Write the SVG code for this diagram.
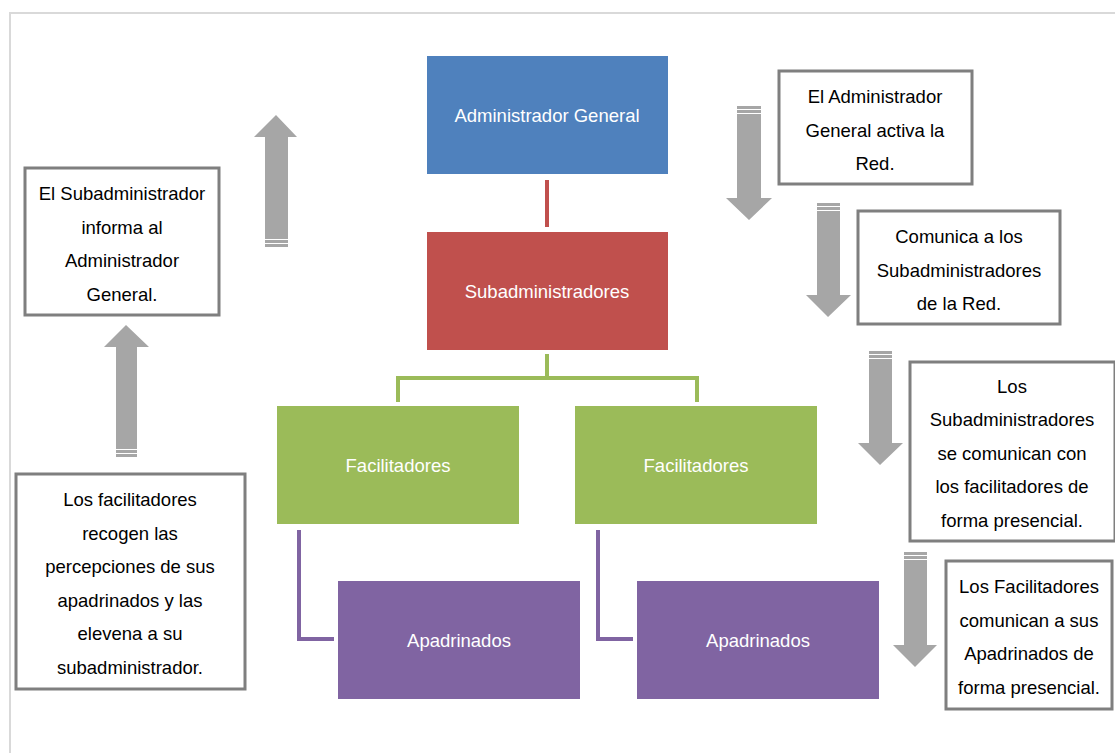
<svg xmlns="http://www.w3.org/2000/svg" width="1115" height="753" viewBox="0 0 1115 753">
<style>
.frame{fill:none;stroke:#D9D9D9;stroke-width:2}
.node text{font-family:"Liberation Sans",Arial,sans-serif;font-size:18.5px;fill:#FFFFFF;text-anchor:middle;dominant-baseline:central}
.note rect{fill:#FFFFFF;stroke:#7F7F7F;stroke-width:3}
.note text{font-family:"Liberation Sans",Arial,sans-serif;font-size:18.5px;fill:#000000;text-anchor:middle;dominant-baseline:central}
.arrow{fill:#A6A6A6}
.stripe{stroke:#FFFFFF;stroke-width:1}
</style>
<rect class="frame" x="10" y="13" width="1115" height="750"/>

<g id="connectors" fill="none" stroke-width="4">
  <line x1="547" y1="180" x2="547" y2="227" stroke="#C0504D"/>
  <path d="M547 354 V378 M398 402 V378 H697 V402" stroke="#9BBB59"/>
  <path d="M299 530 V639 H334" stroke="#8064A2"/>
  <path d="M598 530 V639 H633" stroke="#8064A2"/>
</g>

<g id="n-admin" class="node"><rect x="427" y="56" width="241" height="118" fill="#4F81BD"/><text x="547" y="115">Administrador General</text></g>
<g id="n-sub" class="node"><rect x="427" y="232" width="241" height="118" fill="#C0504D"/><text x="547" y="291">Subadministradores</text></g>
<g id="n-fac1" class="node"><rect x="277" y="406" width="242" height="118" fill="#9BBB59"/><text x="398" y="465">Facilitadores</text></g>
<g id="n-fac2" class="node"><rect x="575" y="406" width="242" height="118" fill="#9BBB59"/><text x="696" y="465">Facilitadores</text></g>
<g id="n-apa1" class="node"><rect x="338" y="581" width="242" height="118" fill="#8064A2"/><text x="459" y="640">Apadrinados</text></g>
<g id="n-apa2" class="node"><rect x="637" y="581" width="242" height="118" fill="#8064A2"/><text x="758" y="640">Apadrinados</text></g>

<g id="arrows">
  <g id="a-up1"><polygon class="arrow" points="276,115 297,137 288,137 288,247 265,247 265,137 254,137"/><path class="stripe" d="M265 239.5 H288 M265 243.5 H288"/></g>
  <g id="a-up2"><polygon class="arrow" points="126,325 149,347 137,347 137,457 116,457 116,347 104,347"/><path class="stripe" d="M116 449.5 H137 M116 453.5 H137"/></g>
  <g id="a-down1"><polygon class="arrow" points="737,106 761,106 761,198 772,198 749,220 726,198 737,198"/><path class="stripe" d="M737 109.5 H761 M737 113.5 H761"/></g>
  <g id="a-down2"><polygon class="arrow" points="817,203 840,203 840,295 851,295 828,317 806,295 817,295"/><path class="stripe" d="M817 206.5 H840 M817 210.5 H840"/></g>
  <g id="a-down3"><polygon class="arrow" points="869,351 892,351 892,443 903,443 880,465 858,443 869,443"/><path class="stripe" d="M869 354.5 H892 M869 358.5 H892"/></g>
  <g id="a-down4"><polygon class="arrow" points="904,552 927,552 927,645 937,645 915,667 893,645 904,645"/><path class="stripe" d="M904 555.5 H927 M904 559.5 H927"/></g>
</g>

<g id="t-sub-informa" class="note"><rect x="25" y="168" width="194" height="147"/>
  <text x="122" y="193">El Subadministrador</text><text x="122" y="227">informa al</text><text x="122" y="260">Administrador</text><text x="122" y="294">General.</text></g>
<g id="t-fac-recogen" class="note"><rect x="16" y="474" width="229" height="215"/>
  <text x="130" y="499">Los facilitadores</text><text x="130" y="533">recogen las</text><text x="130" y="566">percepciones de sus</text><text x="130" y="600">apadrinados y las</text><text x="130" y="633">elevena a su</text><text x="130" y="667">subadministrador.</text></g>
<g id="t-admin-activa" class="note"><rect x="779" y="71" width="193" height="113"/>
  <text x="875" y="96">El Administrador</text><text x="875" y="130">General activa la</text><text x="875" y="163">Red.</text></g>
<g id="t-comunica" class="note"><rect x="858" y="211" width="202" height="113"/>
  <text x="959" y="236">Comunica a los</text><text x="959" y="270">Subadministradores</text><text x="959" y="303">de la Red.</text></g>
<g id="t-subs-comunican" class="note"><rect x="910" y="362" width="205" height="179"/>
  <text x="1012" y="386">Los</text><text x="1012" y="419">Subadministradores</text><text x="1012" y="453">se comunican con</text><text x="1012" y="486">los facilitadores de</text><text x="1012" y="520">forma presencial.</text></g>
<g id="t-facs-comunican" class="note"><rect x="946" y="561" width="166" height="148"/>
  <text x="1029" y="586">Los Facilitadores</text><text x="1029" y="620">comunican a sus</text><text x="1029" y="653">Apadrinados de</text><text x="1029" y="687">forma presencial.</text></g>
</svg>
